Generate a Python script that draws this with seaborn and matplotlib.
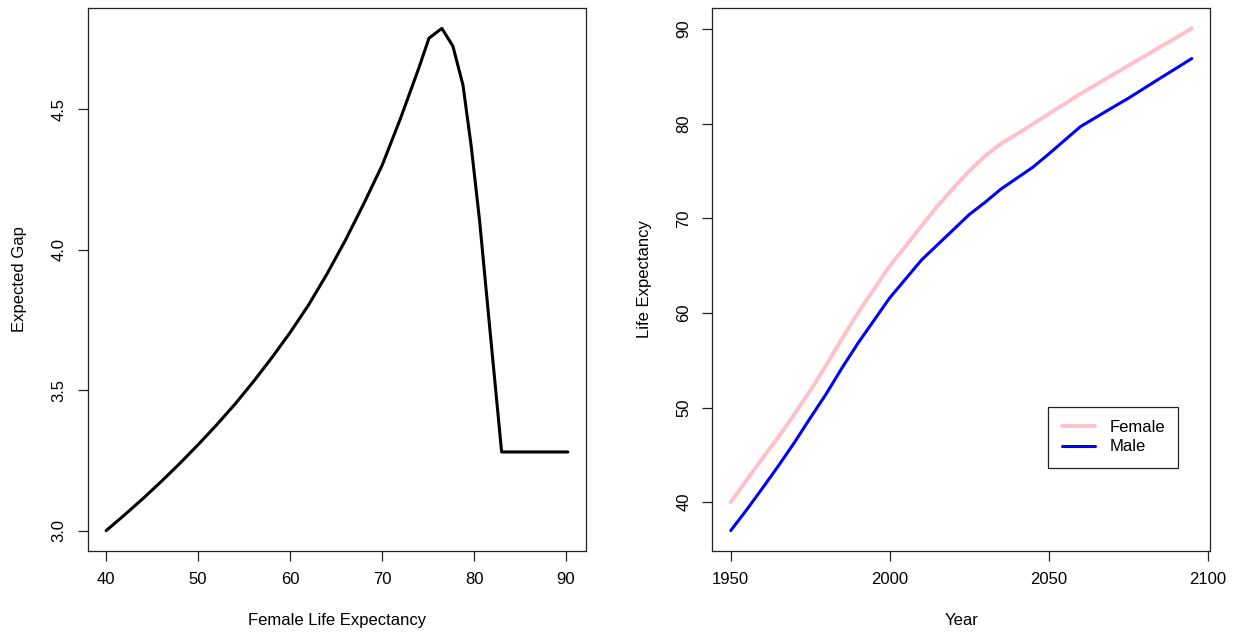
import numpy as np
import pandas as pd
import matplotlib
matplotlib.use("Agg")
import matplotlib.pyplot as plt
import seaborn as sns

# ---- Left panel data: expected gap vs female life expectancy ----
female_e0 = [40, 42, 44, 46, 48, 50, 52, 54, 56, 58, 60, 62, 64, 66, 68, 70,
             72, 74, 75.1, 76.5, 77.7, 78.8, 79.7, 80.6, 81.7, 83.0, 90.2]
expected_gap = [3.000, 3.056, 3.114, 3.175, 3.239, 3.306, 3.376, 3.450, 3.530,
                3.615, 3.705, 3.803, 3.913, 4.033, 4.163, 4.300, 4.467, 4.647,
                4.753, 4.788, 4.725, 4.586, 4.367, 4.105, 3.725, 3.280, 3.280]

# ---- Right panel data: projected life expectancy by sex ----
years = list(range(1950, 2100, 5))
female_le = [40.0, 42.35, 44.65, 46.9, 49.3, 51.8, 54.47, 57.3, 60.0, 62.5,
             64.97, 67.07, 69.2, 71.3, 73.2, 75.0, 76.6, 77.9, 78.9, 79.96,
             81.04, 82.1, 83.17, 84.15, 85.14, 86.13, 87.11, 88.1, 89.08, 90.07]
male_le = [37.0, 39.2, 41.5, 43.85, 46.3, 48.9, 51.44, 54.2, 56.8, 59.2,
           61.6, 63.6, 65.6, 67.2, 68.8, 70.4, 71.7, 73.1, 74.25, 75.4,
           76.8, 78.25, 79.7, 80.7, 81.7, 82.68, 83.74, 84.8, 85.84, 86.89]

left_ticks_x = [40, 50, 60, 70, 80, 90]
left_ticks_y = [3.0, 3.5, 4.0, 4.5]
right_ticks_x = [1950, 2000, 2050, 2100]
right_ticks_y = [40, 50, 60, 70, 80, 90]

sns.set_style("ticks")
plt.rcParams["font.family"] = ["Liberation Sans", "DejaVu Sans"]
plt.rcParams["font.size"] = 12
plt.rcParams["text.color"] = "black"
plt.rcParams["axes.labelcolor"] = "black"

fig = plt.figure(figsize=(12.44, 6.35), dpi=100)
ax1 = fig.add_axes([87.7 / 1244, (635 - 550.7) / 635, (586.3 - 87.7) / 1244, (550.7 - 8.3) / 635])
ax2 = fig.add_axes([712.3 / 1244, (635 - 550.7) / 635, (1210.3 - 712.3) / 1244, (550.7 - 8.3) / 635])

df_left = pd.DataFrame({"e0": female_e0, "gap": expected_gap})
sns.lineplot(data=df_left, x="e0", y="gap", ax=ax1, color="black", linewidth=2.2,
             estimator=None, sort=False)

df_f = pd.DataFrame({"year": years, "le": female_le})
df_m = pd.DataFrame({"year": years, "le": male_le})
sns.lineplot(data=df_f, x="year", y="le", ax=ax2, color="#FFC0CB", linewidth=2.8,
             label="Female", estimator=None)
sns.lineplot(data=df_m, x="year", y="le", ax=ax2, color="#0000FF", linewidth=2.2,
             label="Male", estimator=None)


def r_limits(vals):
    lo, hi = min(vals), max(vals)
    pad = 0.04 * (hi - lo)
    return lo - pad, hi + pad


ax1.set_xlim(*r_limits(female_e0))
ax1.set_ylim(*r_limits(expected_gap))
ax2.set_xlim(*r_limits(years))
ax2.set_ylim(*r_limits(female_le + male_le))

ax1.set_xticks(left_ticks_x)
ax1.set_yticks(left_ticks_y)
ax1.set_yticklabels([f"{v:.1f}" for v in left_ticks_y])
ax2.set_xticks(right_ticks_x)
ax2.set_yticks(right_ticks_y)

ax1.set_xlabel("Female Life Expectancy")
ax1.set_ylabel("Expected Gap")
ax2.set_xlabel("Year")
ax2.set_ylabel("Life Expectancy")

for ax in (ax1, ax2):
    for s in ax.spines.values():
        s.set_visible(True)
        s.set_color("#222222")
        s.set_linewidth(0.9)
    ax.tick_params(axis="both", direction="out", length=7.2, width=0.9,
                   color="#222222", labelsize=12, pad=8, labelcolor="black")
    for lab in ax.get_yticklabels():
        lab.set_rotation(90)
        lab.set_va("center")
        lab.set_ha("right")
    ax.xaxis.set_label_coords(0.5, -62 / 542.4)
    ax.yaxis.set_label_coords(-68 / 498.3, 0.5)
    ax.yaxis.label.set_va("center")
    ax.grid(False)

leg = ax2.legend(loc="lower left", bbox_to_anchor=(0.6747, 0.153), borderaxespad=0,
                 frameon=True, fancybox=False, framealpha=1, edgecolor="#222222",
                 fontsize=12, handlelength=2.0, handletextpad=0.85, labelspacing=0.25,
                 borderpad=0.8)
leg.get_frame().set_linewidth(0.9)

fig.savefig("out.png", dpi=100)
